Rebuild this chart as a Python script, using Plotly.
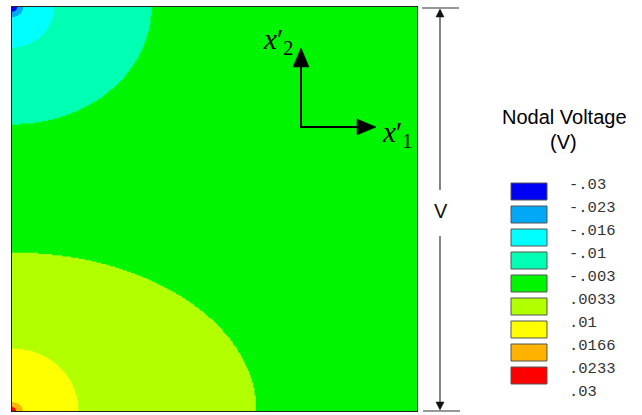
import numpy as np
import plotly.graph_objects as go

# ---------------- data ----------------
levels = [-0.03, -0.023, -0.016, -0.01, -0.003, 0.0033, 0.01, 0.0166, 0.0233, 0.03]
level_labels = ["-.03", "-.023", "-.016", "-.01", "-.003", ".0033", ".01", ".0166", ".0233", ".03"]
band_colors = ["#0000f5", "#00a8f5", "#00ffff", "#00ffb2", "#00f500",
               "#b2ff00", "#ffff00", "#ffb200", "#ff0000"]

# contour boundaries around the two left corners (outer -> inner),
# semi-axes as fractions of the square side (horizontal, vertical)
top_left_levels = [-0.003, -0.01, -0.016, -0.023]
top_left_semi_x = [0.346, 0.104, 0.028, 0.013]
top_left_semi_y = [0.292, 0.101, 0.025, 0.012]
top_left_peak = -0.029

bottom_left_levels = [0.0033, 0.01, 0.0166, 0.0233]
bottom_left_semi_x = [0.605, 0.165, 0.027, 0.010]
bottom_left_semi_y = [0.394, 0.156, 0.022, 0.010]
bottom_left_peak = 0.029

# ---------------- build the field ----------------
n_lev = len(levels)
cl = np.linspace(levels[0], levels[-1], n_lev)   # contour levels used
step = (levels[-1] - levels[0]) / (n_lev - 1)
def exact(v):
    return cl[levels.index(v)]

N = 320
xs = np.linspace(0, 1, N)
ys = np.linspace(0, 1, N)
X, Y = np.meshgrid(xs, ys)

def corner_field(x0, y0, lv, ax, ay, peak):
    dx = np.abs(X - x0)
    dy = np.abs(Y - y0)
    L = [exact(v) for v in lv]
    r = [np.sqrt((dx / a) ** 2 + (dy / b) ** 2) for a, b in zip(ax, ay)]
    z = np.full(X.shape, np.nan)
    K = len(L)
    for k in range(K - 1):
        m = (r[k] < 1) & (r[k + 1] >= 1)
        dout = 1 - r[k]
        din = r[k + 1] - 1
        t = dout / np.maximum(dout + din, 1e-12)
        z = np.where(m, L[k] + t * (L[k + 1] - L[k]), z)
    m = r[K - 1] < 1
    z = np.where(m, L[K - 1] + (peak - L[K - 1]) * (1 - r[K - 1]), z)
    return z

zt = corner_field(0.0, 1.0, top_left_levels, top_left_semi_x, top_left_semi_y, top_left_peak)
zb = corner_field(0.0, 0.0, bottom_left_levels, bottom_left_semi_x, bottom_left_semi_y, bottom_left_peak)
Z = np.zeros(X.shape)
Z = np.where(~np.isnan(zt), zt, Z)
Z = np.where(~np.isnan(zb), zb, Z)

# step colorscale: fills sampled at band centres
fill = [band_colors[0]] + band_colors + [band_colors[-1]]
nb = len(fill) - 1
cscale = []
for k, c in enumerate(fill):
    lo = max(0.0, (k - 0.5) / nb)
    hi = min(1.0, (k + 0.5) / nb)
    cscale += [[lo, c], [hi, c]]

fig = go.Figure(go.Contour(
    x=xs, y=ys, z=Z,
    contours=dict(start=cl[0], end=cl[-1], size=step, coloring="fill", showlines=False),
    line=dict(width=0), colorscale=cscale, showscale=False, hoverinfo="skip"))

# ---------------- pixel helpers ----------------
W, H = 642, 415
PL, PR, PT, PB = 12, 417, 7, 411
def px(v):
    return (v - PL) / (PR - PL)
def py(v):
    return (PB - v) / (PB - PT)

shapes = []
def line(x0, y0, x1, y1, color="#333", width=1.2):
    shapes.append(dict(type="line", xref="paper", yref="paper",
                       x0=px(x0), y0=py(y0), x1=px(x1), y1=py(y1),
                       line=dict(color=color, width=width)))
def tri(pts, color="#000"):
    d = "M " + " L ".join(f"{px(a):.5f},{py(b):.5f}" for a, b in pts) + " Z"
    shapes.append(dict(type="path", xref="paper", yref="paper", path=d,
                       fillcolor=color, line=dict(color=color, width=0.5)))

annotations = []
def text(x, y, t, size, family, color="#000", xanchor="center"):
    annotations.append(dict(x=px(x), y=py(y), xref="paper", yref="paper", text=t,
                            showarrow=False, xanchor=xanchor, yanchor="middle",
                            borderpad=0,
                            font=dict(size=size, family=family, color=color)))

# local axes arrows
line(301, 128, 301, 64, "#000", 2)
tri([(301, 48), (293, 67), (309, 67)])
line(300, 127, 360, 127, "#000", 2)
tri([(376, 127), (357, 119), (357, 135)])
serif = "Liberation Serif, Times New Roman, serif"
text(262, 41, "<i>x</i>′<sub>2</sub>", 29, serif, xanchor="left")
text(381, 134, "<i>x</i>′<sub>1</sub>", 29, serif, xanchor="left")

# dimension line
line(422, 8, 459, 8)
line(423, 411, 460, 411)
line(440, 14, 440, 190)
line(440, 236, 440, 405)
tri([(440, 9), (436, 17), (444, 17)], "#111")
tri([(440, 410), (436, 402), (444, 402)], "#111")
sans = "Liberation Sans, Arial, sans-serif"
text(441, 211, "V", 20, sans, "#111")

# legend
text(564, 117, "Nodal Voltage", 20, sans)
text(563, 142, "(V)", 20, sans)
for k, c in enumerate(band_colors):
    y0 = 183 + 23 * k
    shapes.append(dict(type="rect", xref="paper", yref="paper",
                       x0=px(511), x1=px(547), y0=py(y0), y1=py(y0 + 17),
                       fillcolor=c, line=dict(color="#555", width=1)))
mono = "Liberation Mono, Courier New, monospace"
for k, lab in enumerate(level_labels):
    text(568, 185 + 23 * k, lab, 15.5, mono, "#333", xanchor="left")

fig.update_layout(
    width=W, height=H,
    margin=dict(l=PL, r=W - PR, t=PT, b=H - PB),
    paper_bgcolor="white", plot_bgcolor="white",
    xaxis=dict(range=[0, 1], showgrid=False, zeroline=False, showticklabels=False,
               ticks="", showline=True, mirror=True, linecolor="#222", linewidth=1),
    yaxis=dict(range=[0, 1], showgrid=False, zeroline=False, showticklabels=False,
               ticks="", showline=True, mirror=True, linecolor="#222", linewidth=1),
    shapes=shapes, annotations=annotations, showlegend=False)

fig.write_html("out.html", config={"displayModeBar": False},
               post_script="document.body.style.margin='0';document.body.style.overflow='hidden';")
